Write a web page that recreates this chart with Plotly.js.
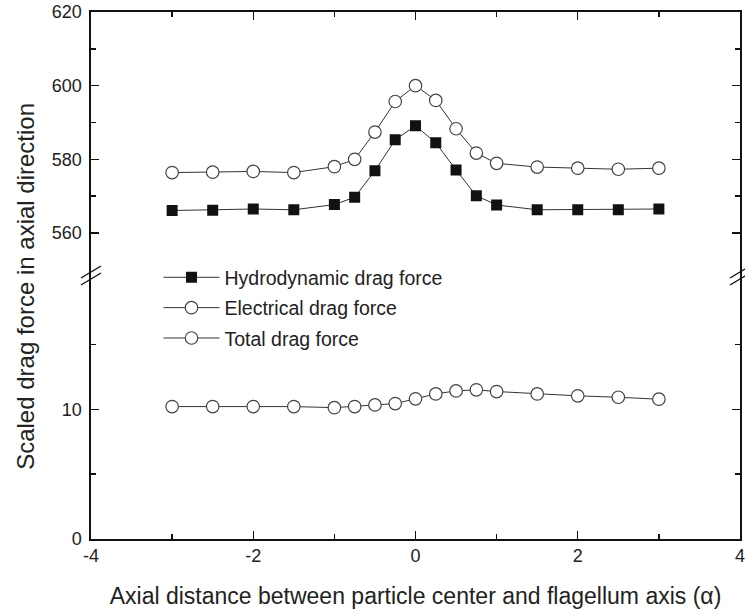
<!DOCTYPE html>
<html>
<head>
<meta charset="utf-8">
<script src="https://cdn.plot.ly/plotly-3.0.1.min.js"></script>
<style>html,body{margin:0;padding:0;background:#fff;}#chart{width:745px;height:616px;}</style>
</head>
<body>
<div id="chart"></div>
<script>
const xVals = [-3, -2.5, -2, -1.5, -1, -0.75, -0.5, -0.25, 0, 0.25, 0.5, 0.75, 1, 1.5, 2, 2.5, 3];
const hydrodynamic = [566.1, 566.2, 566.5, 566.3, 567.7, 569.7, 576.9, 585.3, 589.1, 584.5, 577.1, 570.1, 567.6, 566.3, 566.3, 566.3, 566.5];
const total = [576.4, 576.5, 576.7, 576.4, 578.0, 580.0, 587.4, 595.7, 600.0, 596.0, 588.3, 581.7, 578.9, 577.9, 577.6, 577.3, 577.6];
const electrical = [10.2, 10.2, 10.2, 10.2, 10.12, 10.2, 10.33, 10.43, 10.8, 11.18, 11.41, 11.49, 11.36, 11.18, 11.03, 10.92, 10.77];
const seriesNames = ["Hydrodynamic drag force", "Electrical drag force", "Total drag force"];
const xTickVals = [-4, -2, 0, 2, 4];
const xTickText = ["-4", "-2", "0", "2", "4"];
const yTopTicks = [560, 580, 600, 620];
const yBottomTicks = [0, 10];

const FONT = 'Liberation Sans, Arial, sans-serif';
const lineColor = '#333';
const circleMarker = {symbol: 'circle', size: 12.5, color: '#fff', line: {color: '#444', width: 1.2}};

const traces = [
  {x: xVals, y: hydrodynamic, name: seriesNames[0], xaxis: 'x2', yaxis: 'y2', mode: 'lines+markers',
   line: {color: lineColor, width: 1}, marker: {symbol: 'square', size: 11, color: '#111', line: {color: '#111', width: 0}}, legendgroup: 'a'},
  {x: xVals, y: electrical, name: seriesNames[1], xaxis: 'x', yaxis: 'y', mode: 'lines+markers',
   line: {color: lineColor, width: 1}, marker: circleMarker, legendgroup: 'b'},
  {x: xVals, y: total, name: seriesNames[2], xaxis: 'x2', yaxis: 'y2', mode: 'lines+markers',
   line: {color: lineColor, width: 1}, marker: circleMarker, legendgroup: 'c'}
];

const axisCommon = {showline: true, linecolor: '#111', linewidth: 1.6, ticks: 'inside', ticklen: 8, tickwidth: 1.4,
  tickcolor: '#111', showgrid: false, zeroline: false, tickfont: {family: FONT, size: 18, color: '#222'}};

const bx = 10/649, by = 6/527, off = 3.5/527;
function breakShapes(xp) {
  return [
    {type: 'line', xref: 'paper', yref: 'paper', x0: xp - bx, x1: xp + bx, y0: 0.5 - by - off, y1: 0.5 + by - off, line: {color: '#111', width: 1.4}},
    {type: 'line', xref: 'paper', yref: 'paper', x0: xp - bx, x1: xp + bx, y0: 0.5 - by + off, y1: 0.5 + by + off, line: {color: '#111', width: 1.4}}
  ];
}

const layout = {
  width: 745, height: 616,
  margin: {l: 91, r: 5, t: 12, b: 77},
  paper_bgcolor: '#fff', plot_bgcolor: '#fff',
  font: {family: FONT, color: '#222'},
  showlegend: true,
  legend: {x: 0.104, y: 0.533, xanchor: 'left', yanchor: 'top', bgcolor: 'rgba(0,0,0,0)',
    font: {family: FONT, size: 19.5, color: '#222'}, tracegroupgap: 2, itemwidth: 56},
  xaxis: Object.assign({}, axisCommon, {range: [-4, 4], anchor: 'y', tickvals: xTickVals, ticktext: xTickText,
    ticklabeloverflow: 'allow',
    minor: {ticks: 'inside', ticklen: 5, tickvals: [-3, -1, 1, 3], tickcolor: '#111'},
    title: {text: 'Axial distance between particle center and flagellum axis (\u03b1)', font: {family: FONT, size: 23, color: '#222'}, standoff: 22}}),
  xaxis2: Object.assign({}, axisCommon, {range: [-4, 4], anchor: 'y2', side: 'top', matches: 'x', showticklabels: false,
    tickvals: xTickVals, minor: {ticks: 'inside', ticklen: 5, tickvals: [-3, -1, 1, 3], tickcolor: '#111'}}),
  yaxis: Object.assign({}, axisCommon, {domain: [0, 0.5], range: [0, 20.3], anchor: 'x', mirror: 'ticks', tickvals: yBottomTicks,
    ticklabelstandoff: 4, minor: {ticks: 'inside', ticklen: 5, tickvals: [5, 15], tickcolor: '#111'}}),
  yaxis2: Object.assign({}, axisCommon, {domain: [0.5, 1], range: [548.45, 620], anchor: 'x2', mirror: 'ticks', tickvals: yTopTicks,
    ticklabelstandoff: 4, minor: {ticks: 'inside', ticklen: 5, tickvals: [570, 590, 610], tickcolor: '#111'}}),
  shapes: breakShapes(0).concat(breakShapes(1)),
  annotations: [{text: 'Scaled drag force in axial direction', xref: 'paper', yref: 'paper', x: -0.102, y: 0.48,
    textangle: -90, showarrow: false, xanchor: 'center', yanchor: 'middle', font: {family: FONT, size: 24, color: '#222'}}]
};

Plotly.newPlot('chart', traces, layout, {displayModeBar: false, staticPlot: true});
</script>
</body>
</html>
